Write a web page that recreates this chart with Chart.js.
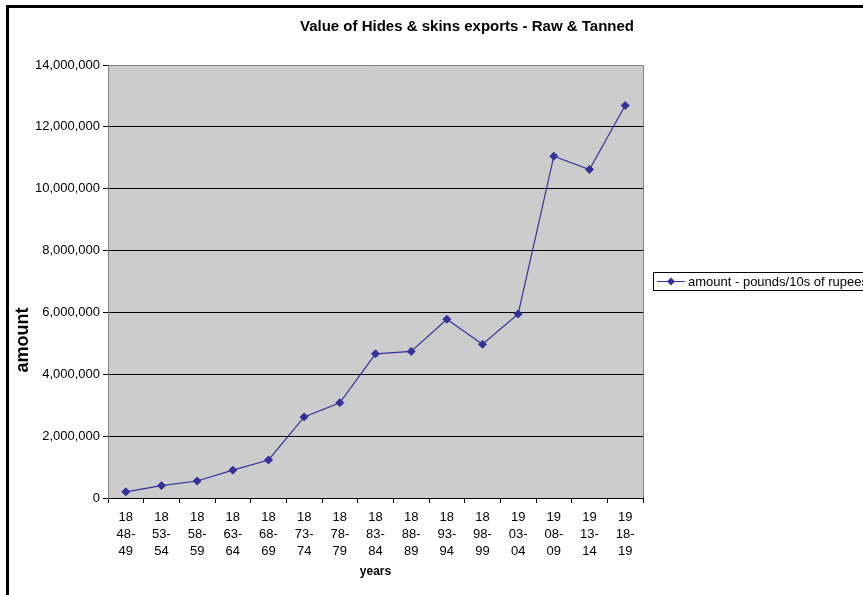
<!DOCTYPE html>
<html>
<head>
<meta charset="utf-8">
<script src="https://cdn.jsdelivr.net/npm/chart.js@4"></script>
<style>
  html, body { margin: 0; padding: 0; background: #fff; overflow: hidden; }
  #wrap { position: absolute; left: 0; top: 0; width: 863px; height: 595px; }
</style>
</head>
<body>
<div id="wrap"><canvas id="hides-chart" width="863" height="595"></canvas></div>
<script>
const chartTitle = 'Value of Hides & skins exports - Raw & Tanned'
const seriesLabel = 'amount - pounds/10s of rupees'
const yTitle = 'amount'
const xTitle = 'years'

// period labels, three lines each as in the original
const periods = [
  ['18', '48-', '49'], ['18', '53-', '54'], ['18', '58-', '59'], ['18', '63-', '64'],
  ['18', '68-', '69'], ['18', '73-', '74'], ['18', '78-', '79'], ['18', '83-', '84'],
  ['18', '88-', '89'], ['18', '93-', '94'], ['18', '98-', '99'], ['19', '03-', '04'],
  ['19', '08-', '09'], ['19', '13-', '14'], ['19', '18-', '19']
]
const amounts = [
  200000, 400000, 550000, 900000, 1230000, 2620000, 3080000, 4660000,
  4740000, 5780000, 4970000, 5950000, 11050000, 10620000, 12690000
]
const yMin = 0
const yMax = 14000000
const yStep = 2000000

const navy = '#333399'
const font = 'Liberation Sans, Arial, sans-serif'

const decorations = {
  id: 'decorations',
  beforeDraw(chart) {
    const { ctx, chartArea: a } = chart
    ctx.save()
    ctx.fillStyle = '#cccccc'
    ctx.fillRect(a.left, a.top, a.right - a.left, a.bottom - a.top)
    ctx.restore()
  },
  afterDraw(chart) {
    const { ctx, chartArea: a } = chart
    ctx.save()
    // plot frame (top / right)
    ctx.strokeStyle = '#808080'
    ctx.lineWidth = 1
    ctx.beginPath()
    ctx.moveTo(a.left, a.top + 0.5)
    ctx.lineTo(a.right + 0.5, a.top + 0.5)
    ctx.lineTo(a.right + 0.5, a.bottom)
    ctx.stroke()

    // outer chart border
    ctx.fillStyle = '#000'
    ctx.fillRect(6, 5, 3, 600)
    ctx.fillRect(6, 5, 900, 3)

    // title
    ctx.fillStyle = '#000'
    ctx.font = `bold 15px ${font}`
    ctx.textAlign = 'center'
    ctx.textBaseline = 'middle'
    ctx.fillText(chartTitle, 467, 27)

    // y axis title
    ctx.save()
    ctx.translate(23, 340)
    ctx.rotate(-Math.PI / 2)
    ctx.font = `bold 18px ${font}`
    ctx.fillText(yTitle, 0, 0)
    ctx.restore()

    // legend
    ctx.strokeStyle = '#000'
    ctx.strokeRect(653.5, 272.5, 300, 18)
    ctx.strokeStyle = navy
    ctx.beginPath()
    ctx.moveTo(657, 281.5)
    ctx.lineTo(685, 281.5)
    ctx.stroke()
    ctx.fillStyle = navy
    ctx.beginPath()
    ctx.moveTo(671, 277.5)
    ctx.lineTo(675, 281.5)
    ctx.lineTo(671, 285.5)
    ctx.lineTo(667, 281.5)
    ctx.closePath()
    ctx.fill()
    ctx.fillStyle = '#000'
    ctx.font = `13px ${font}`
    ctx.textAlign = 'left'
    ctx.fillText(chart.data.datasets[0].label, 688, 282)
    ctx.restore()
  }
}

new Chart(document.getElementById('hides-chart'), {
  type: 'line',
  data: {
    labels: periods,
    datasets: [{
      label: seriesLabel,
      data: amounts,
      borderColor: navy,
      backgroundColor: navy,
      borderWidth: 1.2,
      pointStyle: 'rectRot',
      pointRadius: 4,
      pointBorderWidth: 1,
      tension: 0,
      fill: false
    }]
  },
  options: {
    responsive: false,
    animation: false,
    devicePixelRatio: 1,
    layout: { padding: { top: 65, right: 220, left: 0, bottom: 0 } },
    plugins: {
      legend: { display: false },
      title: { display: false },
      tooltip: { enabled: false }
    },
    scales: {
      x: {
        type: 'category',
        offset: true,
        afterFit: scale => { scale.height = 97 },
        grid: {
          offset: true,
          drawOnChartArea: false,
          drawTicks: true,
          tickLength: 5,
          tickColor: '#000'
        },
        border: { color: '#000', width: 1 },
        ticks: {
          autoSkip: false,
          maxRotation: 0,
          minRotation: 0,
          padding: 6,
          color: '#000',
          font: { family: font, size: 13, lineHeight: 1.3 }
        },
        title: {
          display: true,
          text: xTitle,
          color: '#000',
          font: { family: font, size: 12, weight: 'bold' },
          padding: { top: 0, bottom: 16 }
        }
      },
      y: {
        min: yMin,
        max: yMax,
        afterFit: scale => { scale.width = 108 },
        grid: {
          color: ctx => (ctx.tick && ctx.tick.value === yMax ? 'rgba(0,0,0,0)' : '#000'),
          tickColor: '#000',
          tickLength: 5,
          lineWidth: 1
        },
        border: { color: '#808080', width: 1 },
        ticks: {
          stepSize: yStep,
          padding: 3,
          color: '#000',
          font: { family: font, size: 13 },
          callback: value => value.toLocaleString('en-US')
        }
      }
    }
  },
  plugins: [decorations]
})
</script>
</body>
</html>
